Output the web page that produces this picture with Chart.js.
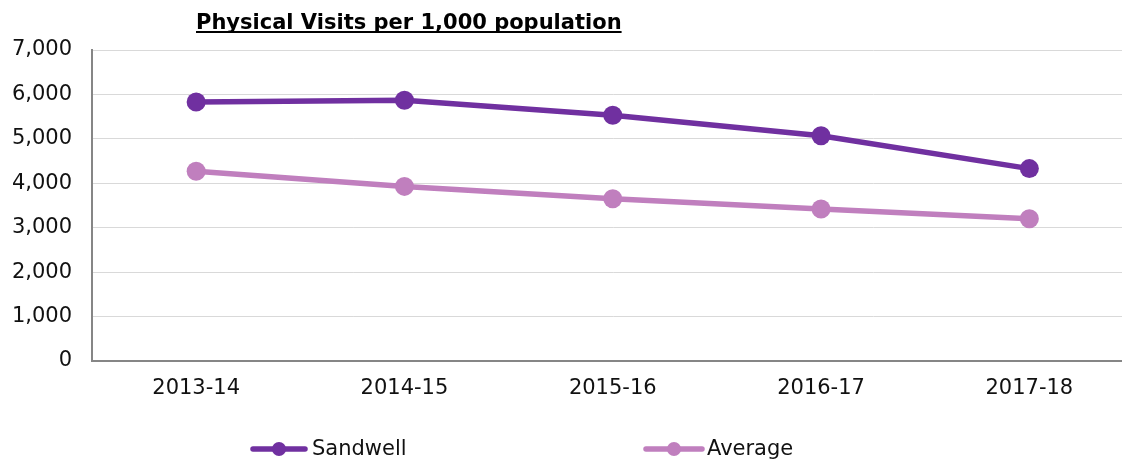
<!DOCTYPE html>
<html>
<head>
<meta charset="utf-8">
<script src="https://cdn.jsdelivr.net/npm/chart.js@4.4.1/dist/chart.umd.min.js"></script>
<style>
  html, body { margin: 0; padding: 0; background: #fff; overflow: hidden; }
  #wrap { width: 1122px; height: 461px; overflow: hidden; position: relative; }
  canvas { display: block; }
</style>
</head>
<body>
<div id="wrap"><canvas id="visitsChart" width="1143" height="461"></canvas></div>
<script>
// data
const YEARS = ['2013-14', '2014-15', '2015-16', '2016-17', '2017-18'];
const SANDWELL = [5830, 5870, 5530, 5070, 4330];
const AVERAGE = [4270, 3930, 3650, 3420, 3200];
const Y_TICKS = [0, 1000, 2000, 3000, 4000, 5000, 6000, 7000];

const TITLE = 'Physical Visits per 1,000 population';
const FONT = '"DejaVu Sans", Verdana, sans-serif';

// title + legend drawn by hand (Excel style)
const excelBits = {
    id: 'excelBits',
    afterDraw(chart) {
        const ctx = chart.ctx;
        ctx.save();

        // title, bold and underlined
        ctx.font = 'bold 21px ' + FONT;
        ctx.fillStyle = '#000';
        ctx.textBaseline = 'alphabetic';
        ctx.textAlign = 'left';
        const tx = 196, ty = 29;
        ctx.fillText(TITLE, tx, ty);
        const w = ctx.measureText(TITLE).width;
        ctx.fillRect(tx, ty + 2, w, 2);

        // legend
        const spots = [[253, 305, 312], [646, 702, 707]];
        ctx.font = '21px ' + FONT;
        ctx.textBaseline = 'middle';
        chart.data.datasets.forEach((ds, i) => {
            const [x1, x2, xt] = spots[i];
            const y = 449;
            ctx.strokeStyle = ds.borderColor;
            ctx.lineWidth = 5.5;
            ctx.lineCap = 'round';
            ctx.beginPath();
            ctx.moveTo(x1, y);
            ctx.lineTo(x2, y);
            ctx.stroke();
            ctx.fillStyle = ds.borderColor;
            ctx.beginPath();
            ctx.arc((x1 + x2) / 2, y, 7, 0, Math.PI * 2);
            ctx.fill();
            ctx.fillStyle = '#111';
            ctx.fillText(ds.label, xt, y + 1);
        });
        ctx.restore();
    }
};

const ctx = document.getElementById('visitsChart').getContext('2d');
new Chart(ctx, {
    type: 'line',
    data: {
        labels: YEARS,
        datasets: [
            {
                label: 'Sandwell',
                data: SANDWELL,
                borderColor: '#7030a0',
                backgroundColor: '#7030a0',
                borderWidth: 5.5,
                pointRadius: 9.5,
                pointHoverRadius: 9.5,
                pointBorderWidth: 0,
                tension: 0
            },
            {
                label: 'Average',
                data: AVERAGE,
                borderColor: '#c07fbe',
                backgroundColor: '#c07fbe',
                borderWidth: 5.5,
                pointRadius: 9.5,
                pointHoverRadius: 9.5,
                pointBorderWidth: 0,
                tension: 0
            }
        ]
    },
    options: {
        responsive: false,
        animation: false,
        layout: { padding: { top: 50, right: 0, bottom: 0, left: 0 } },
        scales: {
            x: {
                offset: true,
                grid: { display: false, drawTicks: false },
                border: { display: true, color: '#868686', width: 2 },
                ticks: { color: '#111', padding: 15, font: { family: FONT, size: 21 }, maxRotation: 0 },
                afterFit: (scale) => { scale.height = 100; }
            },
            y: {
                min: 0,
                max: 7000,
                afterBuildTicks: (scale) => { scale.ticks = Y_TICKS.map(v => ({ value: v })); },
                grid: { color: '#d9d9d9', lineWidth: 1, drawTicks: false },
                border: { display: true, color: '#868686', width: 2 },
                ticks: {
                    color: '#111',
                    padding: 20,
                    font: { family: FONT, size: 21 },
                    callback: (v) => v.toLocaleString('en-US')
                },
                afterFit: (scale) => { scale.width = 92; }
            }
        },
        plugins: {
            legend: { display: false },
            title: { display: false },
            tooltip: { enabled: false }
        }
    },
    plugins: [excelBits]
});
</script>
</body>
</html>
